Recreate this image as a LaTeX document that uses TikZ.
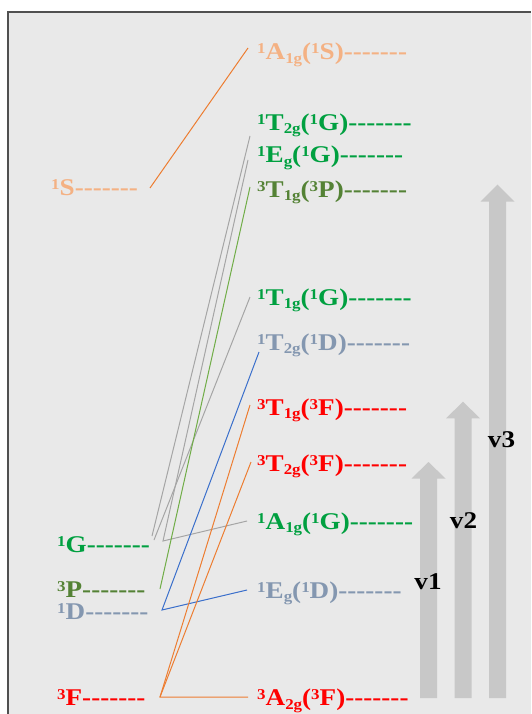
\documentclass[tikz,border=0pt]{standalone}
\usepackage{fontspec}
\setmainfont{Liberation Serif}
\definecolor{cPeach}{HTML}{F4B183}
\definecolor{cGreen}{HTML}{00A040}
\definecolor{cOlive}{HTML}{548235}
\definecolor{cSlate}{HTML}{8497B0}
\definecolor{cRed}{HTML}{FF0000}
\definecolor{lOrange}{HTML}{ED7D31}
\definecolor{lBlue}{HTML}{3A6FCB}
\definecolor{lGreen}{HTML}{70AD47}
\definecolor{lGray}{HTML}{A5A5A5}
\definecolor{cArrow}{HTML}{C8C8C8}
\definecolor{cBg}{HTML}{E9E9E9}
\definecolor{cFrame}{HTML}{505050}
\newcommand\up[1]{\raisebox{6pt}{\fontsize{15}{15}\selectfont #1}}
\newcommand\dn[1]{\raisebox{-3.5pt}{\fontsize{15}{15}\selectfont #1}}
\newcommand\dashes{-{}-{}-{}-{}-{}-{}-}
\newcommand\lbl[1]{\scalebox{1.13}[1]{#1}}
\tikzset{
  lab/.style={anchor=base west, inner sep=0pt, font=\fontsize{24}{28}\selectfont\bfseries},
  vlab/.style={anchor=center, inner sep=0pt, font=\fontsize{24}{28}\selectfont\bfseries, text=black},
  conn/.style={line width=1pt},
  blockarrow/.style={fill=cArrow}
}
\begin{document}
\begin{tikzpicture}[x=1pt,y=-1pt]
\useasboundingbox (0,0) rectangle (531,714);
\fill[white] (0,0) rectangle (531,714);
\fill[cBg] (8,12) rectangle (531,714);
\draw[cFrame, line width=1.6pt] (8,714) -- (8,12) -- (531,12);

% block arrows
\fill[blockarrow] (420,698) -- (420,478.5) -- (411.5,478.5) -- (428.5,462) -- (445.5,478.5) -- (437,478.5) -- (437,698) -- cycle;
\fill[blockarrow] (454.5,698) -- (454.5,418.3) -- (446,418.3) -- (463,401.7) -- (480,418.3) -- (471.5,418.3) -- (471.5,698) -- cycle;
\fill[blockarrow] (489,698) -- (489,201.7) -- (480.5,201.7) -- (497.5,184.5) -- (514.5,201.7) -- (506,201.7) -- (506,698) -- cycle;
\node[vlab] (v1) at (428,582) {\lbl{v1}};
\node[vlab] (v2) at (463.5,521) {\lbl{v2}};
\node[vlab] (v3) at (501.5,440) {\lbl{v3}};

% free-ion terms (left)
\node[lab, text=cPeach] (S) at (51,195.5) {\lbl{\up{1}S\dashes}};
\node[lab, text=cGreen] (G) at (57,552) {\lbl{\up{1}G\dashes}};
\node[lab, text=cOlive] (P) at (57,597.5) {\lbl{\up{3}P\dashes}};
\node[lab, text=cSlate] (D) at (57,619) {\lbl{\up{1}D\dashes}};
\node[lab, text=cRed]   (F) at (57,705.5) {\lbl{\up{3}F\dashes}};

% crystal-field terms (right)
\node[lab, text=cPeach] (A1gS) at (257,60)  {\lbl{\up{1}A\dn{1g}(\up{1}S)\dashes}};
\node[lab, text=cGreen] (T2gG) at (257,130.5) {\lbl{\up{1}T\dn{2g}(\up{1}G)\dashes}};
\node[lab, text=cGreen] (EgG)  at (257,163) {\lbl{\up{1}E\dn{g}(\up{1}G)\dashes}};
\node[lab, text=cOlive] (T1gP) at (257,197) {\lbl{\up{3}T\dn{1g}(\up{3}P)\dashes}};
\node[lab, text=cGreen] (T1gG) at (257,305) {\lbl{\up{1}T\dn{1g}(\up{1}G)\dashes}};
\node[lab, text=cSlate] (T2gD) at (257,350) {\lbl{\up{1}T\dn{2g}(\up{1}D)\dashes}};
\node[lab, text=cRed]   (T1gF) at (257,415) {\lbl{\up{3}T\dn{1g}(\up{3}F)\dashes}};
\node[lab, text=cRed]   (T2gF) at (257,471) {\lbl{\up{3}T\dn{2g}(\up{3}F)\dashes}};
\node[lab, text=cGreen] (A1gG) at (257,529) {\lbl{\up{1}A\dn{1g}(\up{1}G)\dashes}};
\node[lab, text=cSlate] (EgD)  at (257,598) {\lbl{\up{1}E\dn{g}(\up{1}D)\dashes}};
\node[lab, text=cRed]   (A2gF) at (257,705.5) {\lbl{\up{3}A\dn{2g}(\up{3}F)\dashes}};

% connector end points
\coordinate (S-r) at (150,188);
\coordinate (G-r1) at (152,536);
\coordinate (G-r2) at (154,540);
\coordinate (G-r3) at (163,541);
\coordinate (P-r) at (160,589);
\coordinate (D-r) at (162,610);
\coordinate (F-r) at (160,697);
\coordinate (A1gS-l) at (248,48);
\coordinate (T2gG-l) at (250,136);
\coordinate (EgG-l)  at (248,160);
\coordinate (T1gP-l) at (250,187);
\coordinate (T1gG-l) at (250,297);
\coordinate (T2gD-l) at (259,352);
\coordinate (T1gF-l) at (250,405);
\coordinate (T2gF-l) at (251,462);
\coordinate (A1gG-l) at (247,521);
\coordinate (EgD-l)  at (247,590);
\coordinate (A2gF-l) at (248,697);

% connectors
\draw[conn, lOrange] (S-r) -- (A1gS-l);
\draw[conn, lGray] (G-r1) -- (T2gG-l);
\draw[conn, lGray] (G-r2) -- (T1gG-l);
\draw[conn, lGray] (EgG-l) -- (G-r3) -- (A1gG-l);
\draw[conn, lGreen] (P-r) -- (T1gP-l);
\draw[conn, lBlue] (T2gD-l) -- (D-r) -- (EgD-l);
\draw[conn, lOrange] (T1gF-l) -- (F-r) -- (A2gF-l);
\draw[conn, lOrange] (F-r) -- (T2gF-l);
\end{tikzpicture}
\end{document}
